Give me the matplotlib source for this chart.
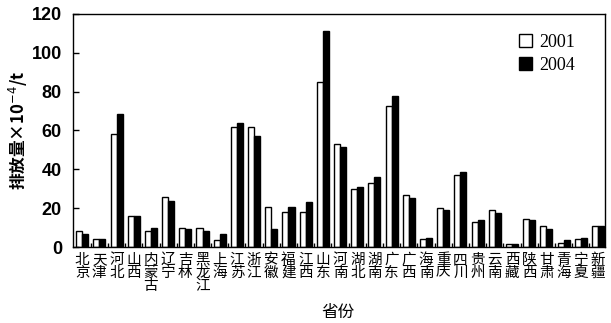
import matplotlib
matplotlib.use("Agg")
import matplotlib.pyplot as plt
import numpy as np
from matplotlib.patches import Patch

plt.rcParams['font.family'] = ['Noto Sans CJK SC', 'DejaVu Sans']

# Data -------------------------------------------------------------------------
provinces = ['北京', '天津', '河北', '山西', '内蒙古', '辽宁', '吉林', '黑龙江',
             '上海', '江苏', '浙江', '安徽', '福建', '江西', '山东', '河南',
             '湖北', '湖南', '广东', '广西', '海南', '重庆', '四川', '贵州',
             '云南', '西藏', '陕西', '甘肃', '青海', '宁夏', '新疆']
val_2001 = [8.1, 4.1, 58.2, 15.8, 8.1, 25.8, 10.0, 10.0, 3.4, 61.7, 61.7,
            20.4, 18.0, 18.0, 84.9, 52.9, 30.0, 33.0, 72.5, 26.6, 4.3, 19.9,
            37.3, 12.9, 19.2, 1.4, 14.6, 10.7, 2.2, 4.1, 10.7]
val_2004 = [6.9, 4.1, 68.7, 15.8, 10.0, 23.5, 9.3, 8.2, 6.9, 63.6, 57.0,
            9.5, 20.4, 23.4, 111.2, 51.7, 31.0, 35.9, 78.0, 25.3, 4.8, 19.1,
            38.5, 13.9, 17.5, 1.4, 14.1, 9.3, 3.6, 4.8, 10.7]
years = ['2001', '2004']
y_ticks = [0, 20, 40, 60, 80, 100, 120]

# Plot ---------------------------------------------------------------------------
fig = plt.figure(figsize=(6.11, 3.23), dpi=100)
ax = fig.add_axes([0.1195, 0.235, 0.8705, 0.722])

x = np.arange(len(provinces))
w = 0.35
ax.bar(x - w / 2, val_2001, w, color='white', edgecolor='black', linewidth=1.0)
ax.bar(x + w / 2, val_2004, w, color='black', edgecolor='black', linewidth=1.0)

ax.set_xlim(-0.53, len(provinces) - 1 + 0.4)
ax.set_ylim(0, 120)
ax.set_yticks(y_ticks)
ax.set_yticklabels([str(t) for t in y_ticks], family='Liberation Sans',
                   fontweight='bold', fontsize=13)
ax.tick_params(axis='y', direction='in', length=4, width=1, pad=8)
ax.set_xticks(x[:-1] + 0.5)
ax.set_xticklabels([])
ax.tick_params(axis='x', direction='in', length=3, width=1)
for s in ax.spines.values():
    s.set_linewidth(1.0)

# vertical province labels
for i, name in enumerate(provinces):
    ax.text(i, -0.025, '\n'.join(name), transform=ax.get_xaxis_transform(),
            ha='center', va='top', fontsize=10.5, linespacing=0.9,
            fontweight='medium')

fig.text(0.03, 0.598, '排放量×10$^{-4}$/t', rotation=90, ha='center',
         va='center', fontsize=12, fontweight='bold')
fig.text(0.553, 0.034, '省份', ha='center', va='center', fontsize=12)

handles = [Patch(facecolor='white', edgecolor='black'),
           Patch(facecolor='black', edgecolor='black')]
ax.legend(handles, years, loc='upper right', frameon=False,
          prop={'family': 'Liberation Serif', 'size': 13},
          handlelength=0.75, handleheight=0.75, handletextpad=0.4,
          labelspacing=0.35, bbox_to_anchor=(0.975, 0.985))

fig.savefig('out.png', dpi=100)
